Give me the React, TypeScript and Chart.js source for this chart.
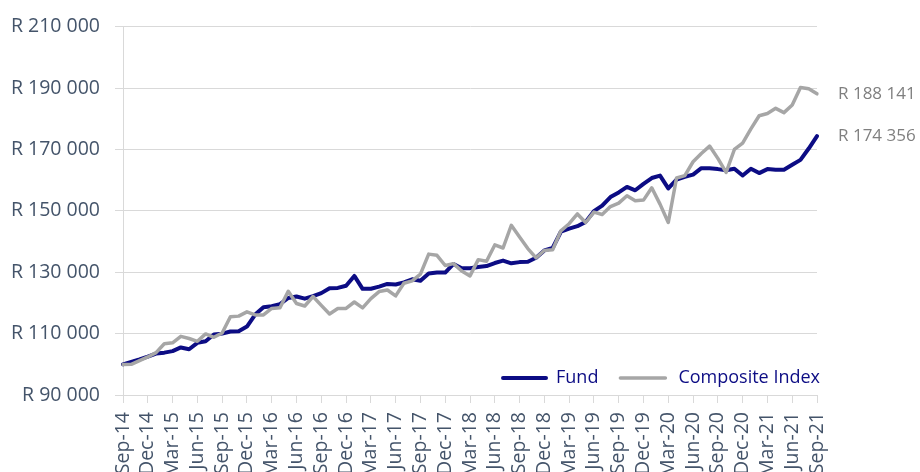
import React, { useEffect, useRef } from "react";
import { Chart, registerables } from "chart.js";

Chart.register(...registerables);

const MONTH_NAMES = ["Jan", "Feb", "Mar", "Apr", "May", "Jun", "Jul", "Aug", "Sep", "Oct", "Nov", "Dec"];

// Monthly categories Sep-14 .. Sep-21
const categories: string[] = [];
for (let y = 2014, m = 8; y < 2021 || (y === 2021 && m <= 8); ) {
  categories.push(`${MONTH_NAMES[m]}-${String(y).slice(2)}`);
  m++;
  if (m > 11) { m = 0; y++; }
}

const fundValues = [
  100000, 100800, 101600, 102500, 103500, 103800, 104300, 105500, 104900, 107000,
  107500, 109700, 110000, 110700, 110800, 112300, 116200, 118600, 118900, 119600,
  121600, 122100, 121400, 122200, 123200, 124800, 124900, 125600, 128800, 124600,
  124600, 125300, 126200, 126000, 126700, 127700, 127200, 129600, 129900, 129900,
  132700, 131300, 131300, 131700, 132000, 133000, 133800, 132900, 133300, 133400,
  134700, 137100, 137900, 143200, 144200, 145000, 146400, 149900, 151700, 154500,
  156000, 157800, 156700, 158800, 160700, 161500, 157300, 160200, 161100, 161800,
  163900, 163900, 163600, 163200, 163700, 161500, 163700, 162300, 163600, 163400,
  163400, 165000, 166600, 170300, 174356,
];

const compositeValues = [
  99900, 100000, 101200, 102400, 103800, 106700, 107000, 109100, 108400, 107500,
  109900, 108800, 110200, 115500, 115700, 117100, 116100, 116100, 118200, 118400,
  123800, 119800, 119000, 122100, 119200, 116400, 118200, 118200, 120300, 118400,
  121400, 123700, 124200, 122300, 126400, 127200, 129400, 135900, 135500, 132200,
  132800, 130400, 128800, 134100, 133600, 138900, 137900, 145300, 141500, 137700,
  134700, 137100, 137300, 143500, 145800, 149000, 146200, 149600, 148800, 151400,
  152500, 154900, 153300, 153500, 157500, 152200, 146200, 160700, 161500, 166000,
  168700, 171100, 167100, 162500, 170000, 172100, 176700, 181000, 181700, 183400,
  182000, 184500, 190200, 189800, 188141,
];

const seriesNames = ["Fund", "Composite Index"];
const endLabels = ["R 174 356", "R 188 141"];

const NAVY = "#0c0c84";
const GREY = "#a6a6a6";
const AXIS_TEXT = "#44546a";
const GRID = "#d9d9d9";
const FONT = '"Open Sans", "DejaVu Sans", sans-serif';

function formatRand(v: number): string {
  const s = Math.round(v).toString().replace(/\B(?=(\d{3})+(?!\d))/g, " ");
  return "R " + s;
}

const overlayPlugin = {
  id: "overlay",
  afterDatasetsDraw(chart: any) {
    const { ctx, chartArea, scales } = chart;
    const yScale = scales.y;
    ctx.save();
    // End labels
    ctx.font = `17px ${FONT}`;
    ctx.fillStyle = "#7f7f7f";
    ctx.textAlign = "left";
    ctx.textBaseline = "middle";
    const lastF = fundValues[fundValues.length - 1];
    const lastC = compositeValues[compositeValues.length - 1];
    ctx.fillText(endLabels[0], chartArea.right + 21, yScale.getPixelForValue(lastF));
    ctx.fillText(endLabels[1], chartArea.right + 21, yScale.getPixelForValue(lastC));

    // Legend (inside plot, bottom right)
    ctx.font = `18px ${FONT}`;
    ctx.fillStyle = NAVY;
    const ly = chartArea.bottom - 17;
    const w2 = ctx.measureText(seriesNames[1]).width;
    const w1 = ctx.measureText(seriesNames[0]).width;
    const t2 = chartArea.right + 3 - w2;
    const l2e = t2 - 13;
    const l2s = l2e - 45;
    const t1e = l2s - 22;
    const t1 = t1e - w1;
    const l1e = t1 - 10;
    const l1s = l1e - 43;
    ctx.lineCap = "round";
    ctx.lineWidth = 4;
    ctx.strokeStyle = NAVY;
    ctx.beginPath();
    ctx.moveTo(l1s, ly);
    ctx.lineTo(l1e, ly);
    ctx.stroke();
    ctx.lineWidth = 3.5;
    ctx.strokeStyle = GREY;
    ctx.beginPath();
    ctx.moveTo(l2s, ly);
    ctx.lineTo(l2e, ly);
    ctx.stroke();
    ctx.fillStyle = NAVY;
    ctx.fillText(seriesNames[0], t1, ly);
    ctx.fillText(seriesNames[1], t2, ly);
    ctx.restore();
  },
};

export default function App() {
  const canvasRef = useRef<HTMLCanvasElement | null>(null);

  useEffect(() => {
    if (!canvasRef.current) return;
    const chart = new Chart(canvasRef.current, {
      type: "line",
      data: {
        labels: categories,
        datasets: [
          {
            label: seriesNames[0],
            data: fundValues,
            borderColor: NAVY,
            backgroundColor: NAVY,
            borderWidth: 4,
            pointRadius: 0,
            tension: 0,
            borderJoinStyle: "round",
            borderCapStyle: "round",
            order: 1,
          },
          {
            label: seriesNames[1],
            data: compositeValues,
            borderColor: GREY,
            backgroundColor: GREY,
            borderWidth: 3.5,
            pointRadius: 0,
            tension: 0,
            borderJoinStyle: "round",
            borderCapStyle: "round",
            order: 0,
          },
        ],
      },
      options: {
        responsive: false,
        animation: false,
        events: [],
        layout: { padding: { left: 0, right: 103, top: 19, bottom: 0 } },
        plugins: {
          legend: { display: false },
          tooltip: { enabled: false },
        },
        scales: {
          x: {
            type: "category",
            offset: false,
            afterFit: (scale: any) => { scale.height = 100; },
            grid: {
              drawOnChartArea: false,
              drawTicks: true,
              tickLength: 8,
              color: (ctx: any) => (ctx.index % 3 === 0 ? GRID : "rgba(0,0,0,0)"),
            },
            border: { display: true, color: GRID, width: 1 },
            ticks: {
              autoSkip: false,
              minRotation: 90,
              maxRotation: 90,
              padding: 9,
              color: AXIS_TEXT,
              font: { family: FONT, size: 19.5 },
              callback: (_v: any, i: number) => (i % 3 === 0 ? categories[i] : ""),
            },
          },
          y: {
            min: 90000,
            max: 210000,
            afterFit: (scale: any) => { scale.width = 123; },
            grid: { color: GRID, lineWidth: 1, drawTicks: true, tickLength: 8 },
            border: { display: true, color: GRID, width: 1 },
            ticks: {
              stepSize: 20000,
              padding: 15,
              color: AXIS_TEXT,
              font: { family: FONT, size: 19.5 },
              callback: (v: any) => formatRand(Number(v)),
            },
          },
        },
      },
      plugins: [overlayPlugin],
    });
    return () => chart.destroy();
  }, []);

  return (
    <div style={{ position: "fixed", left: 0, top: 0, width: 920, height: 472, overflow: "hidden", background: "#fff" }}>
      <canvas ref={canvasRef} width={920} height={495} style={{ display: "block" }} />
    </div>
  );
}
